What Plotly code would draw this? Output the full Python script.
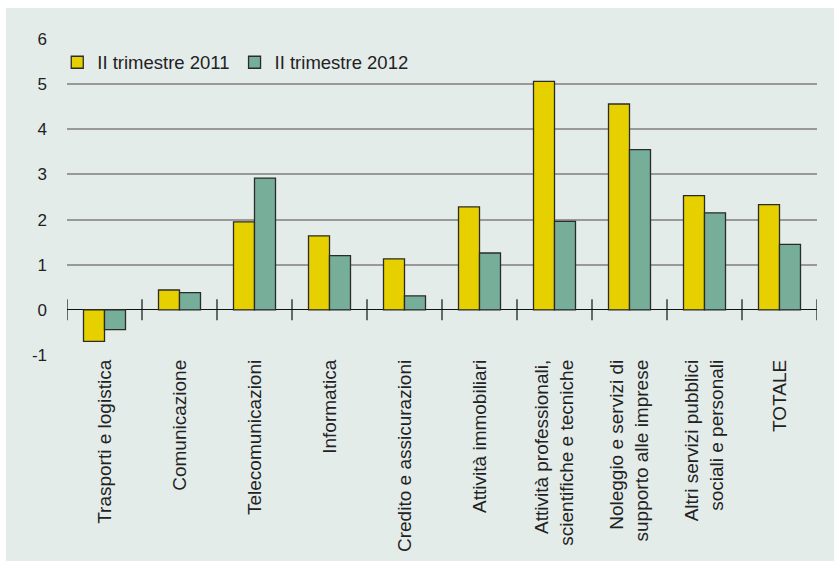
import plotly.graph_objects as go

categories = [
    "Trasporti e logistica",
    "Comunicazione",
    "Telecomunicazioni",
    "Informatica",
    "Credito e assicurazioni",
    "Attività immobiliari",
    "Attività professionali,<br>scientifiche e tecniche",
    "Noleggio e servizi di<br>supporto alle imprese",
    "Altri servizi pubblici<br>sociali e personali",
    "TOTALE",
]
series_2011 = [-0.70, 0.44, 1.95, 1.64, 1.13, 2.28, 5.06, 4.56, 2.53, 2.33]
series_2012 = [-0.44, 0.38, 2.92, 1.20, 0.31, 1.26, 1.96, 3.55, 2.15, 1.45]
name_2011 = "II trimestre 2011"
name_2012 = "II trimestre 2012"
y_ticks = [-1, 0, 1, 2, 3, 4, 5, 6]
y_tick_labels = ["-1", "0", "1", "2", "3", "4", "5", "6"]

FONT = "Liberation Sans, Arial, sans-serif"
PANEL = "#e4ecea"
YELLOW = "#e6d000"
GREEN = "#76ae9a"
OUTLINE = "#2b2b2b"
TEXT = "#222222"

idx = list(range(len(categories)))
boundaries = [i - 0.5 for i in idx] + [len(categories) - 0.5]

fig = go.Figure()
fig.add_trace(go.Bar(x=idx, y=series_2011, name=name_2011,
                     marker=dict(color=YELLOW, line=dict(color=OUTLINE, width=1.3))))
fig.add_trace(go.Bar(x=idx, y=series_2012, name=name_2012,
                     marker=dict(color=GREEN, line=dict(color=OUTLINE, width=1.3))))
fig.add_trace(go.Scatter(x=boundaries, y=[0] * len(boundaries), mode="markers",
                         marker=dict(symbol="line-ns", size=15,
                                     line=dict(color="#111111", width=1.2)),
                         showlegend=False, hoverinfo="skip"))

fig.update_layout(
    width=834, height=561,
    margin=dict(l=67, r=17, t=39, b=206),
    paper_bgcolor="white",
    plot_bgcolor="rgba(0,0,0,0)",
    barmode="group", bargap=0.44, bargroupgap=0,
    font=dict(family=FONT, size=18, color=TEXT),
    showlegend=True,
    legend=dict(orientation="h", x=-0.013, y=0.985, xanchor="left", yanchor="top",
                bgcolor="rgba(0,0,0,0)", font=dict(size=18.5, family=FONT, color=TEXT),
                traceorder="normal"),
    shapes=[dict(type="rect", xref="paper", yref="paper",
                 x0=(6 - 67) / 750, x1=(834 - 67) / 750,
                 y0=-206 / 316, y1=347 / 316,
                 fillcolor=PANEL, line=dict(width=0), layer="below")],
)
fig.update_xaxes(range=[-0.5, len(categories) - 0.5], tickmode="array",
                 tickvals=idx, ticktext=categories, tickangle=-90,
                 showgrid=False, zeroline=False, showline=False, ticks="",
                 automargin=False,
                 tickfont=dict(size=19, family=FONT, color=TEXT))
fig.update_yaxes(range=[-1, 6], tickmode="array", tickvals=y_ticks,
                 ticktext=y_tick_labels, automargin=False,
                 showgrid=True, gridcolor="#999999", gridwidth=1.5,
                 zeroline=True, zerolinecolor="#111111", zerolinewidth=1.2,
                 showline=False, ticks="", ticklabelstandoff=19,
                 tickfont=dict(size=17, family=FONT, color=TEXT))

fig.write_html("out.html")
